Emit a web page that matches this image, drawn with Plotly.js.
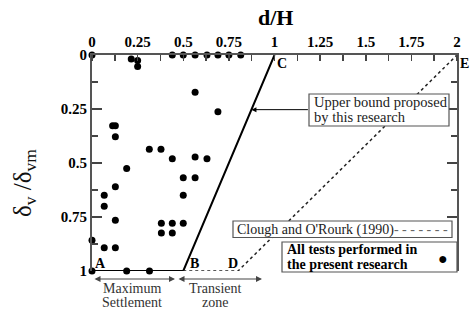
<!DOCTYPE html>
<html>
<head>
<meta charset="utf-8">
<script src="https://cdn.plot.ly/plotly-3.0.1.min.js"></script>
<style>html,body{margin:0;padding:0;background:#fff;}#chart{width:470px;height:309px;}</style>
</head>
<body>
<div id="chart"></div>
<script>
// Tests performed in the present research (d/H, δv/δvm)
const testD = [0, 0.44, 0.50, 0.565, 0.63, 0.69, 0.75, 0.815,
  0.215, 0.25, 0.25,
  0.565, 0.69,
  0.113, 0.128, 0.128,
  0.314, 0.378,
  0.44, 0.565, 0.63,
  0.19,
  0.5, 0.565,
  0.128,
  0.067, 0.5,
  0.067,
  0.128,
  0.38, 0.44, 0.5,
  0.38, 0.44,
  0,
  0.067, 0.128,
  0, 0.19, 0.315];
const testS = [0, 0, 0, 0, 0, 0, 0, 0,
  0.018, 0.025, 0.053,
  0.173, 0.263,
  0.328, 0.328, 0.378,
  0.436, 0.436,
  0.48, 0.472, 0.48,
  0.525,
  0.568, 0.568,
  0.61,
  0.649, 0.649,
  0.70,
  0.765,
  0.779, 0.779, 0.779,
  0.824, 0.824,
  0.858,
  0.892, 0.892,
  1, 1, 1];

// Upper bound proposed by this research: A - B - C
const upperD = [0, 0.5, 1];
const upperS = [1, 1, 0];
// Clough and O'Rourke (1990): B - D - E
const cloughD = [0.5, 0.8, 2];
const cloughS = [1, 1, 0];

const xTickVals = [0, 0.25, 0.5, 0.75, 1, 1.25, 1.5, 1.75, 2];
const xTickText = ['0', '0.25', '0.5', '0.75', '1', '1.25', '1.5', '1.75', '2'];
const yTickVals = [0, 0.25, 0.5, 0.75, 1];
const yTickText = ['0', '0.25', '0.5', '0.75', '1'];

const SERIF = 'Liberation Serif, Times New Roman, serif';
const AX = '#555';

const traces = [
  {x: upperD, y: upperS, mode: 'lines', line: {color: '#000', width: 2}, cliponaxis: false, hoverinfo: 'skip'},
  {x: cloughD, y: cloughS, mode: 'lines', line: {color: '#222', width: 1.5, dash: '3px,3px'}, cliponaxis: false, hoverinfo: 'skip'},
  {x: testD, y: testS, mode: 'markers', marker: {color: '#000', size: 7}, cliponaxis: false}
];

// paper coordinate helpers (plot area 92..457 x, 55..271 y)
const px = p => (p - 92) / 365;
const py = p => (271 - p) / 216;

const ann = [];
function txt(text, x, y, size, opts) {
  ann.push(Object.assign({text: text, x: x, y: y, xref: 'paper', yref: 'paper', showarrow: false,
    font: {family: SERIF, size: size, color: '#000'}, xanchor: 'center', yanchor: 'middle'}, opts || {}));
}
const f = (size, color) => ({family: SERIF, size: size, color: color});
// titles
txt('<b>d/H</b>', px(275), py(17), 22);
txt('δ<sub>v</sub> /δ<sub>vm</sub>', px(24), py(183), 25, {textangle: -90, font: f(25, '#111')});
// point labels
txt('<b>A</b>', px(100), py(263.5), 14);
txt('<b>B</b>', px(194), py(263.5), 14);
txt('<b>D</b>', px(233), py(263), 14);
txt('<b>C</b>', px(282), py(64), 14);
txt('<b>E</b>', px(465), py(64), 14);
// Upper bound box text
txt('Upper bound proposed', px(312), py(102), 14.5, {xanchor: 'left', font: f(14.5, '#222')});
txt('by this research', px(312), py(117), 14.5, {xanchor: 'left', font: f(14.5, '#222')});
// Clough box text
txt("Clough and O'Rourk (1990)<span style=\"color:#666\">- - - - - - -</span>", px(235), py(229.5), 14, {xanchor: 'left', font: f(14, '#222')});
// All tests box text
txt('<b>All tests performed in</b>', px(285), py(249.5), 14, {xanchor: 'left'});
txt('<b>the present research</b>', px(285), py(264), 14, {xanchor: 'left'});
txt('●', px(443), py(258), 16);
// zone labels
txt('Maximum', px(132), py(288), 14, {font: f(14, '#333')});
txt('Settlement', px(132), py(302), 14, {font: f(14, '#333')});
txt('Transient', px(215), py(288), 14, {font: f(14, '#333')});
txt('zone', px(215), py(302), 14, {font: f(14, '#333')});

// arrow to upper bound line
ann.push({text: '', x: 0.8735, y: 0.253, xref: 'x', yref: 'y', ax: 58, ay: 0,
  showarrow: true, arrowhead: 2, arrowsize: 1, arrowwidth: 1, arrowcolor: '#000'});
// double arrows below the axis (paper referenced so they are not hidden)
ann.push({text: '', x: px(175), y: py(279), xref: 'paper', yref: 'paper', ax: -82, ay: 0,
  showarrow: true, arrowhead: 2, arrowside: 'end+start', arrowsize: 1, arrowwidth: 1.2, arrowcolor: '#444'});
ann.push({text: '', x: px(262), y: py(279), xref: 'paper', yref: 'paper', ax: -85, ay: 0,
  showarrow: true, arrowhead: 2, arrowside: 'end+start', arrowsize: 1, arrowwidth: 1.2, arrowcolor: '#444'});

const shapes = [
  {type: 'rect', xref: 'paper', yref: 'paper', x0: px(309), x1: px(449), y0: py(126), y1: py(94), line: {color: '#555', width: 1.2}, fillcolor: '#fff', layer: 'above'},
  {type: 'rect', xref: 'paper', yref: 'paper', x0: px(233), x1: px(452), y0: py(237.5), y1: py(221), line: {color: '#555', width: 1.2}, fillcolor: '#fff', layer: 'above'},
  {type: 'rect', xref: 'paper', yref: 'paper', x0: px(282), x1: px(457), y0: py(272), y1: py(242), line: {color: '#555', width: 1.2}, fillcolor: '#fff', layer: 'above'}
];

const layout = {
  width: 470, height: 309,
  margin: {l: 92, r: 13, t: 55, b: 38, pad: 0},
  paper_bgcolor: '#fff', plot_bgcolor: '#fff',
  showlegend: false,
  xaxis: {
    side: 'top', range: [0, 2], showgrid: false, zeroline: false,
    showline: true, linecolor: AX, linewidth: 2,
    tickmode: 'array', tickvals: xTickVals, ticktext: xTickText, ticks: '',
    tickfont: {family: SERIF, size: 15, color: '#000', weight: 'bold'},
    minor: {tick0: 0, dtick: 0.125, ticks: 'inside', ticklen: 6, tickcolor: '#444', tickwidth: 1.5, showgrid: false}
  },
  yaxis: {
    range: [1, 0], showgrid: false, zeroline: false,
    showline: true, linecolor: AX, linewidth: 2, mirror: 'ticks',
    tickmode: 'array', tickvals: yTickVals, ticktext: yTickText,
    ticks: 'inside', ticklen: 10, tickcolor: '#444', tickwidth: 1.5,
    tickfont: {family: SERIF, size: 15, color: '#000', weight: 'bold'},
    minor: {tick0: 0, dtick: 0.125, ticks: 'inside', ticklen: 6, tickcolor: '#444', tickwidth: 1.2, showgrid: false}
  },
  annotations: ann,
  shapes: shapes
};

Plotly.newPlot('chart', traces, layout, {staticPlot: true, displayModeBar: false});
</script>
</body>
</html>
